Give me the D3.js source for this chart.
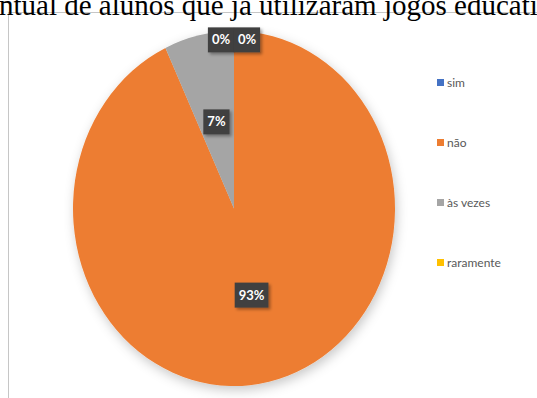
<!DOCTYPE html>
<html>
<head>
<meta charset="utf-8">
<script src="https://cdn.jsdelivr.net/npm/d3@7"></script>
<style>
  body { margin: 0; background: #fff; overflow: hidden; }
  svg { display: block; }
</style>
</head>
<body>
<svg id="chart" width="537" height="398"></svg>
<script>
var titleText = 'Percentual de alunos que já utilizaram jogos educativos';
var categories = ['sim', 'não', 'às vezes', 'raramente'];
var values = [0, 93, 7, 0];
var labels = ['0%', '93%', '7%', '0%'];
var colors = ['#4472C4', '#ED7D31', '#A5A5A5', '#FFC000'];

var svg = d3.select('#chart');
var cx = 234;
var cy = 208.5;
var rx = 161;
var ry = 177.5;

var defs = svg.append('defs');
var pieShadow = defs.append('filter')
  .attr('id', 'pieShadow')
  .attr('x', '-20%').attr('y', '-20%')
  .attr('width', '140%').attr('height', '140%');
pieShadow.append('feDropShadow')
  .attr('dx', 2).attr('dy', 4)
  .attr('stdDeviation', 6)
  .attr('flood-color', '#000')
  .attr('flood-opacity', 0.22);

var boxShadow = defs.append('filter')
  .attr('id', 'boxShadow')
  .attr('x', '-30%').attr('y', '-30%')
  .attr('width', '160%').attr('height', '160%');
boxShadow.append('feDropShadow')
  .attr('dx', 2).attr('dy', 2)
  .attr('stdDeviation', 1.5)
  .attr('flood-color', '#000')
  .attr('flood-opacity', 0.35);

// chart frame (cut off at right and bottom)
svg.append('rect')
  .attr('x', 8.5)
  .attr('y', 12.5)
  .attr('width', 600)
  .attr('height', 500)
  .attr('fill', '#fff')
  .attr('stroke', '#c6c6c6')
  .attr('stroke-width', 1);

// title (cut off on both sides, as in the source picture)
var title = svg.append('text')
  .attr('y', 15)
  .attr('font-family', '"Liberation Serif", "Times New Roman", serif')
  .attr('font-size', 29)
  .attr('fill', '#000')
  .text(titleText);
var offset = title.node().getSubStringLength(0, 5);
title.attr('x', -offset - 1);

// pie
var pie = d3.pie()
  .sort(null)
  .value(function (d) { return d; });
var arcs = pie(values);

var arc = d3.arc()
  .innerRadius(0)
  .outerRadius(ry);

var gPie = svg.append('g')
  .attr('transform', 'translate(' + cx + ',' + cy + ') scale(' + (rx / ry) + ',1)');

gPie.append('g')
  .attr('filter', 'url(#pieShadow)')
  .selectAll('path')
  .data(arcs)
  .enter()
  .append('path')
  .attr('d', arc)
  .attr('fill', function (d, i) { return colors[i]; });

// data labels
var labelArc = d3.arc()
  .innerRadius(ry * 0.5)
  .outerRadius(ry * 0.5);
var outerArc = d3.arc()
  .innerRadius(ry * 0.95)
  .outerRadius(ry * 0.95);

var gLabels = svg.append('g')
  .attr('transform', 'translate(' + cx + ',' + cy + ')');

var zeroCount = 0;
arcs.forEach(function (d, i) {
  var c;
  var shift = 0;
  if (values[i] === 0) {
    c = outerArc.centroid(d);
    shift = zeroCount === 0 ? -13 : 13;
    zeroCount++;
  } else {
    c = labelArc.centroid(d);
  }
  var x = c[0] * rx / ry + shift;
  var y = c[1];

  var g = gLabels.append('g')
    .attr('transform', 'translate(' + x + ',' + y + ')');
  var t = g.append('text')
    .attr('text-anchor', 'middle')
    .attr('dy', '0.35em')
    .attr('font-family', 'Lato, "Open Sans", sans-serif')
    .attr('font-weight', 'bold')
    .attr('font-size', 13)
    .attr('fill', '#fff')
    .text(labels[i]);
  var w = t.node().getComputedTextLength() + 8;
  g.insert('rect', 'text')
    .attr('x', -w / 2)
    .attr('y', -12.5)
    .attr('width', w)
    .attr('height', 25)
    .attr('fill', '#404040')
    .attr('filter', 'url(#boxShadow)');
});

// legend
var legend = svg.append('g')
  .attr('transform', 'translate(437,82.5)');

var item = legend.selectAll('g')
  .data(categories)
  .enter()
  .append('g')
  .attr('transform', function (d, i) { return 'translate(0,' + i * 60 + ')'; });

item.append('rect')
  .attr('x', 0)
  .attr('y', -3.5)
  .attr('width', 7)
  .attr('height', 7)
  .attr('fill', function (d, i) { return colors[i]; });

item.append('text')
  .attr('x', 10)
  .attr('dy', '0.35em')
  .attr('font-family', 'Lato, "Open Sans", sans-serif')
  .attr('font-size', 12)
  .attr('fill', '#595959')
  .text(function (d) { return d; });
</script>
</body>
</html>
